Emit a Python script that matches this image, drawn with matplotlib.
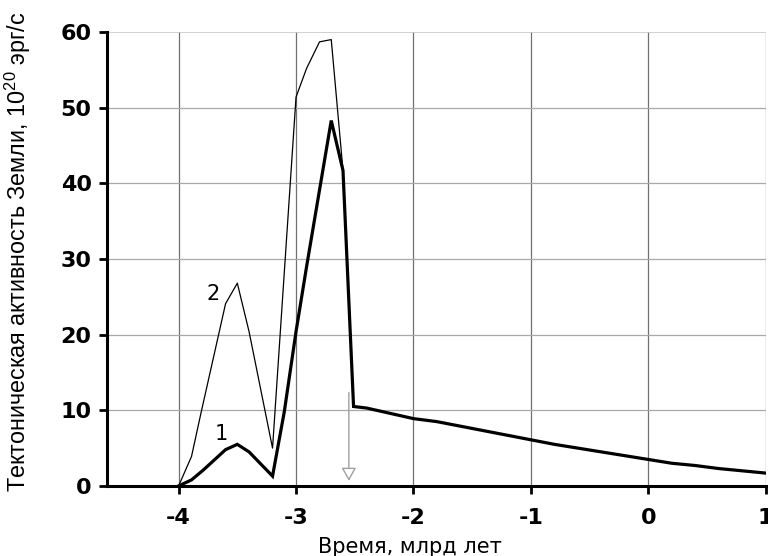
import matplotlib
matplotlib.use("Agg")
import matplotlib.pyplot as plt

plt.rcParams["mathtext.fontset"] = "custom"
plt.rcParams["mathtext.rm"] = "Liberation Sans"
plt.rcParams["mathtext.it"] = "Liberation Sans"

# curve 1 (thick) : tectonic activity, model 1
t1 = [-4.0, -3.89, -3.79, -3.6, -3.5, -3.4, -3.2, -3.1, -3.0, -2.91, -2.7, -2.6,
      -2.51, -2.4, -2.2, -2.0, -1.8, -1.6, -1.4, -1.2, -1.0, -0.8, -0.6, -0.4,
      -0.2, 0.0, 0.2, 0.4, 0.6, 0.8, 1.0]
a1 = [0.0, 0.8, 2.1, 4.8, 5.5, 4.5, 1.3, 9.8, 20.4, 29.0, 48.3, 41.7,
      10.5, 10.3, 9.6, 8.9, 8.5, 7.9, 7.3, 6.7, 6.1, 5.5, 5.0, 4.5,
      4.0, 3.5, 3.0, 2.7, 2.3, 2.0, 1.7]

# curve 2 (thin) : model 2, merges with curve 1 after -2.6
t2 = [-4.0, -3.89, -3.81, -3.6, -3.5, -3.4, -3.2, -3.0, -2.91, -2.8, -2.7, -2.6]
a2 = [0.0, 3.9, 9.6, 24.1, 26.8, 20.4, 5.0, 51.4, 55.2, 58.7, 59.0, 41.7]

xticks = [-4, -3, -2, -1, 0, 1]
yticks = [0, 10, 20, 30, 40, 50, 60]

# marker arrow (end of Archaean)
arrow_x = -2.55
arrow_top = 12.7
arrow_tip = 0.3

fig = plt.figure(figsize=(7.68, 5.56), dpi=100)
ax = fig.add_axes([0.1393, 0.126, 0.8577, 0.8164])

ax.set_xlim(-4.61, 1.0)
ax.set_ylim(0, 60)

for x in xticks:
    ax.axvline(x, color="#707070", lw=0.9, zorder=1)
for y in yticks[1:-1]:
    ax.axhline(y, color="#a8a8a8", lw=0.9, zorder=1)
ax.axhline(60, color="#c8c8c8", lw=1.2, zorder=1)

ax.plot(t2, a2, color="black", lw=0.9, zorder=3)
ax.plot(t1, a1, color="black", lw=2.3, zorder=4, solid_joinstyle="miter")

ax.annotate("", xy=(arrow_x, arrow_tip), xytext=(arrow_x, arrow_top),
            arrowprops=dict(arrowstyle="-|>,head_length=0.8,head_width=0.45",
                            edgecolor="#a0a0a0", facecolor="white", lw=1.0),
            zorder=5)

ax.text(-3.64, 5.6, "1", fontsize=15, family="DejaVu Sans", ha="center", va="bottom")
ax.text(-3.71, 24.0, "2", fontsize=15, family="DejaVu Sans", ha="center", va="bottom")

ax.set_xticks(xticks)
ax.set_yticks(yticks)
ax.set_xticklabels(["-4", "-3", "-2", "-1", "0", "1"])
ax.tick_params(axis="both", direction="out", length=6, width=2.0, labelsize=16)
ax.tick_params(axis="x", pad=10)
ax.tick_params(axis="y", pad=5)
for lab in ax.get_xticklabels() + ax.get_yticklabels():
    lab.set_family("DejaVu Sans")
    lab.set_fontweight("bold")

for s in ["top", "right"]:
    ax.spines[s].set_visible(False)
for s in ["left", "bottom"]:
    ax.spines[s].set_linewidth(2.2)
    ax.spines[s].set_zorder(6)

ax.set_xlabel("Время, млрд лет", fontsize=15, family="DejaVu Sans")
ax.xaxis.set_label_coords(0.46, -0.113)
ax.set_ylabel("Тектоническая активность Земли, 10$^{20}$ эрг/с",
              fontsize=16.8, family="Liberation Sans")
ax.yaxis.set_label_coords(-0.112, 0.515)

fig.savefig("out.png", dpi=100)
